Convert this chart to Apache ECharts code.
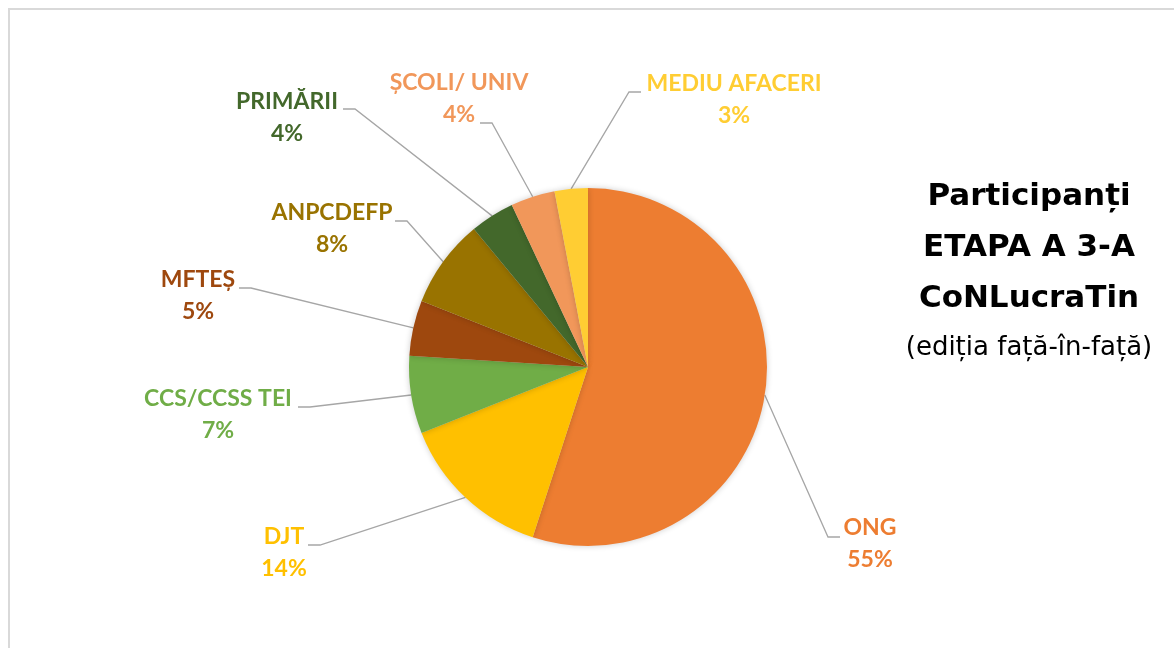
<!DOCTYPE html>
<html>
<head>
<meta charset="utf-8">
<script src="https://cdn.jsdelivr.net/npm/echarts@6/dist/echarts.min.js"></script>
<style>
    html, body { margin: 0; padding: 0; overflow: hidden; background: #fff; }
    #chart { position: absolute; left: 0; top: 0; width: 1174px; height: 648px; }
    #frame { position: absolute; left: 8px; top: 8px; width: 1200px; height: 700px; border: 2px solid #d9d9d9; pointer-events: none; }
</style>
</head>
<body>
<div id="chart"></div>
<div id="frame"></div>
<script>
// Categorii si procente (sensul acelor de ceasornic, de sus)
var categories = ['ONG', 'DJT', 'CCS/CCSS TEI', 'MFTEȘ', 'ANPCDEFP', 'PRIMĂRII', 'ȘCOLI/ UNIV', 'MEDIU AFACERI'];
var shares = [55, 14, 7, 5, 8, 4, 4, 3];

var sliceColors = ['#ED7D31', '#FFC000', '#70AD47', '#9E480E', '#997300', '#43682B', '#F1975A', '#FFCD33'];

// pozitia etichetelor: [centru x, centru y, cot x, cot y, directie carlig]
var labelSpots = [
    [870, 544, 828, 537, 1],
    [284, 553, 320, 545, -1],
    [218, 415, 310, 407, -1],
    [198, 296, 251, 288, -1],
    [332, 229, 407, 221, -1],
    [287, 118, 355, 109, -1],
    [459, 99, 492, 123, -1],
    [734, 100, 629, 92, 1]
];

var chart = echarts.init(document.getElementById('chart'));

var labelFont = { fontFamily: 'Lato', fontWeight: 'bold', fontSize: 23, lineHeight: 32, align: 'center' };

var option = {
    animation: false,
    // titlul din dreapta
    graphic: [{
        type: 'text',
        x: 1029,
        y: 171,
        style: {
            text: '{b|Participanți}\n{b|ETAPA A 3-A}\n{b|CoNLucraTin}\n{s|(ediția față-în-față)}',
            align: 'center',
            verticalAlign: 'top',
            rich: {
                b: { fontFamily: 'DejaVu Sans', fontWeight: 'bold', fontSize: 31, lineHeight: 51, fill: '#000', align: 'center' },
                s: { fontFamily: 'DejaVu Sans', fontSize: 26, lineHeight: 48, fill: '#000', align: 'center' }
            }
        }
    }],
    series: [{
        type: 'pie',
        center: [588, 367],
        radius: 179,
        startAngle: 90,
        clockwise: true,
        percentPrecision: 0,
        emphasis: { disabled: true },
        itemStyle: { shadowBlur: 6, shadowColor: 'rgba(0,0,0,0.2)' },
        label: {
            show: true,
            formatter: '{v|{b}}\n{v|{d}%}',
            fontFamily: 'Lato',
            fontWeight: 'bold',
            fontSize: 23,
            lineHeight: 32,
            rich: { v: labelFont }
        },
        labelLine: { show: true, length: 10, length2: 10, lineStyle: { color: '#a6a6a6', width: 1.3 } },
        labelLayout: function (params) {
            var s = labelSpots[params.dataIndex];
            var pts = params.labelLinePoints;
            return {
                x: s[0],
                y: s[1],
                align: 'center',
                verticalAlign: 'middle',
                hideOverlap: false,
                labelLinePoints: [pts[0], [s[2], s[3]], [s[2] + s[4] * 12, s[3]]]
            };
        },
        data: categories.map(function (name, i) {
            return {
                name: name,
                value: shares[i],
                itemStyle: { color: sliceColors[i] },
                label: { color: sliceColors[i] }
            };
        })
    }]
};

chart.setOption(option);
</script>
</body>
</html>
